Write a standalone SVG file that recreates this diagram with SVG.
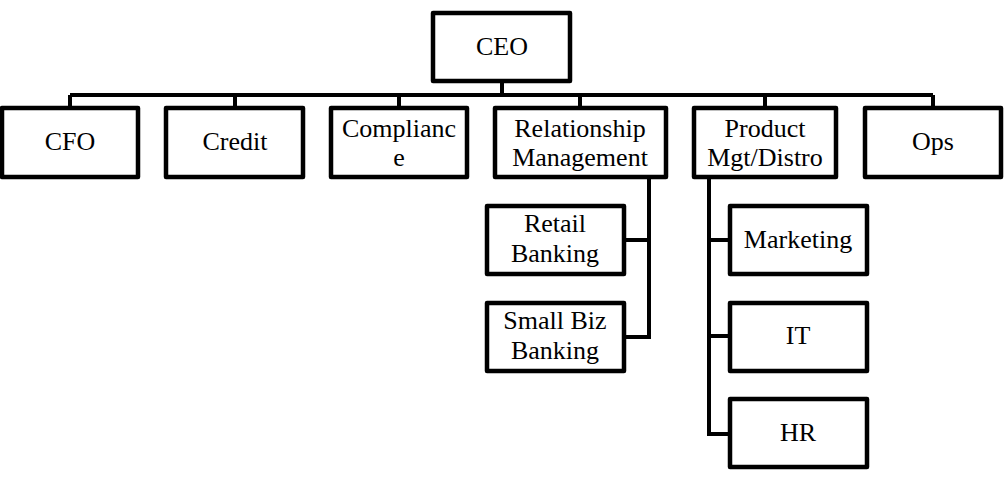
<svg xmlns="http://www.w3.org/2000/svg" width="1004" height="480" viewBox="0 0 1004 480">
<style>
.box{fill:#fff;stroke:#000;stroke-width:4.5;stroke-linejoin:round}
.t{font-family:'Liberation Serif','DejaVu Serif',serif;font-size:26px;fill:#000;text-anchor:middle}
.c{fill:none;stroke:#000;stroke-width:4}
</style>
<rect width="1004" height="480" fill="#fff"/>
<g id="connectors">
<path class="c" d="M502 81V95M70 95H933M70 95V108M235 95V108M399 95V108M580 95V108M765 95V108M933 95V108"/>
<path class="c" d="M649 177V337M624 240H651M624 337H651"/>
<path class="c" d="M709 177V434M707 240H730M707 336H730M707 434H730"/>
</g>
<g id="ceo"><rect class="box" x="433" y="13" width="137" height="68"/><text class="t" x="502" y="55">CEO</text></g>
<g id="cfo"><rect class="box" x="2" y="108" width="136" height="69"/><text class="t" x="70" y="150">CFO</text></g>
<g id="credit"><rect class="box" x="166" y="108" width="137" height="69"/><text class="t" x="235" y="150">Credit</text></g>
<g id="compliance"><rect class="box" x="331" y="108" width="136" height="69"/><text class="t" x="399" y="137">Complianc</text><text class="t" x="399" y="166">e</text></g>
<g id="relationship"><rect class="box" x="495" y="108" width="171" height="69"/><text class="t" x="580" y="137">Relationship</text><text class="t" x="580" y="166">Management</text></g>
<g id="product"><rect class="box" x="694" y="108" width="142" height="69"/><text class="t" x="765" y="137">Product</text><text class="t" x="765" y="166">Mgt/Distro</text></g>
<g id="ops"><rect class="box" x="865" y="108" width="136" height="69"/><text class="t" x="933" y="150">Ops</text></g>
<g id="retail"><rect class="box" x="487" y="206" width="137" height="68"/><text class="t" x="555" y="232">Retail</text><text class="t" x="555" y="262">Banking</text></g>
<g id="smallbiz"><rect class="box" x="487" y="303" width="137" height="68"/><text class="t" x="555" y="329">Small Biz</text><text class="t" x="555" y="359">Banking</text></g>
<g id="marketing"><rect class="box" x="730" y="206" width="137" height="68"/><text class="t" x="798" y="248">Marketing</text></g>
<g id="it"><rect class="box" x="730" y="303" width="137" height="68"/><text class="t" x="798" y="344">IT</text></g>
<g id="hr"><rect class="box" x="730" y="399" width="137" height="68"/><text class="t" x="798" y="441">HR</text></g>
</svg>
